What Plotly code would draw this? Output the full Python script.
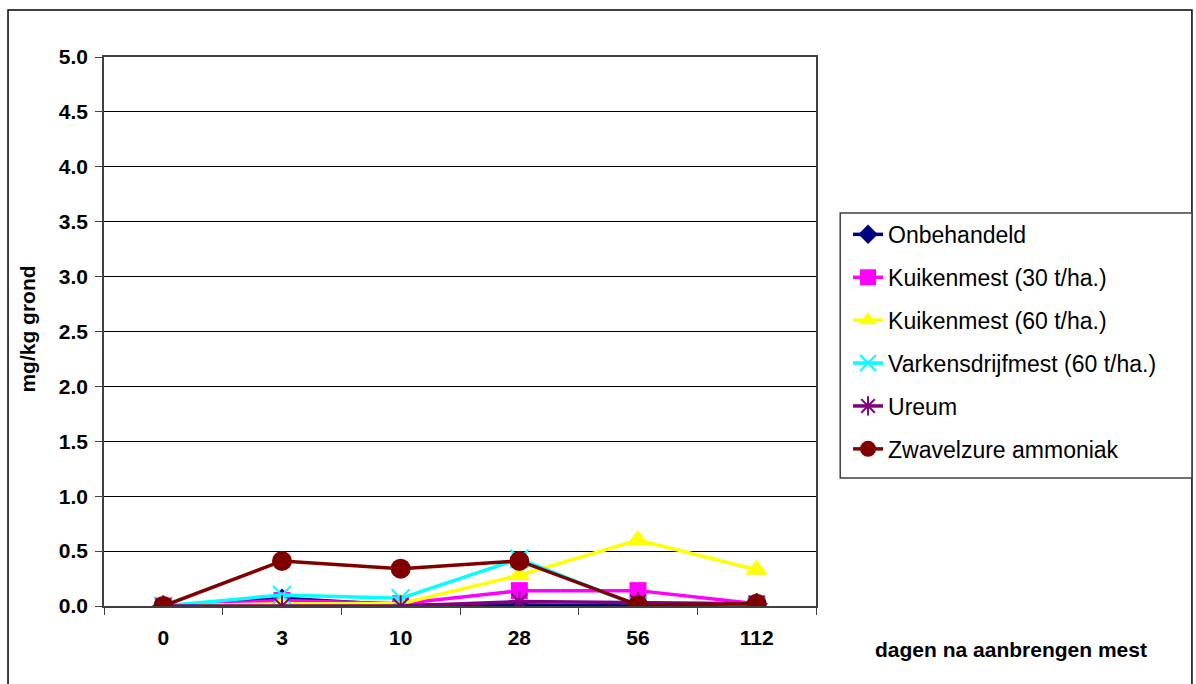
import plotly.graph_objects as go

# Days after manure application (categorical x axis)
dagen = ["0", "3", "10", "28", "56", "112"]

onbehandeld = [0.00, 0.07, 0.01, 0.01, 0.00, 0.00]
kuiken_30 = [0.00, 0.05, 0.02, 0.14, 0.14, 0.02]
kuiken_60 = [0.00, 0.02, 0.02, 0.28, 0.60, 0.33]
varkens_60 = [0.00, 0.10, 0.07, 0.43, 0.00, 0.00]
ureum = [0.00, 0.00, 0.00, 0.04, 0.03, 0.02]
zwavelzure = [0.00, 0.41, 0.34, 0.41, 0.01, 0.02]

y_ticks = [0.0, 0.5, 1.0, 1.5, 2.0, 2.5, 3.0, 3.5, 4.0, 4.5, 5.0]

series = [
    ("Onbehandeld", onbehandeld, "#000080", "diamond", 15),
    ("Kuikenmest (30 t/ha.)", kuiken_30, "#FF00FF", "square", 17),
    ("Kuikenmest (60 t/ha.)", kuiken_60, "#FFFF00", "triangle-up", 20),
    ("Varkensdrijfmest (60 t/ha.)", varkens_60, "#00FFFF", "x-thin-open", 18),
    ("Ureum", ureum, "#800080", "asterisk-open", 18),
    ("Zwavelzure ammoniak", zwavelzure, "#800000", "circle", 20),
]

FONT = "Liberation Sans, Arial, sans-serif"

fig = go.Figure()
for i, (name, vals, color, symbol, size) in enumerate(series):
    marker = dict(symbol=symbol, size=size, color=color)
    if symbol.endswith("-open"):
        marker["line"] = dict(color=color, width=2)
    fig.add_trace(go.Scatter(
        x=dagen, y=vals, name=name, mode="lines+markers",
        line=dict(color=color, width=3.5),
        marker=marker, legendgroup=f"g{i}",
    ))

fig.update_layout(
    width=1196, height=684,
    margin=dict(l=104, r=380, t=57, b=78),
    paper_bgcolor="white", plot_bgcolor="white",
    font=dict(family=FONT, color="black"),
    showlegend=True,
    legend=dict(
        x=1.045, y=0.716, xanchor="left", yanchor="top",
        borderwidth=0, bgcolor="rgba(0,0,0,0)",
        font=dict(size=23, family=FONT, color="black"),
        tracegroupgap=10,
    ),
    xaxis=dict(
        type="category", range=[-0.5, 5.5],
        showgrid=False, showline=True, linecolor="#404040", linewidth=1.5,
        ticks="outside", tickson="boundaries", ticklen=7, tickcolor="#404040",
        tickfont=dict(size=21, family=FONT), ticklabelstandoff=12,
        mirror=True, zeroline=False,
        tickvals=dagen, ticktext=[f"<b>{d}</b>" for d in dagen],
    ),
    yaxis=dict(
        range=[0, 5.0], tickvals=y_ticks,
        ticktext=[f"<b>{v:.1f}</b>" for v in y_ticks],
        showgrid=True, gridcolor="black", gridwidth=1,
        showline=True, linecolor="#404040", linewidth=1.5, mirror=True,
        ticks="outside", ticklen=7, tickcolor="#404040",
        tickfont=dict(size=21, family=FONT), ticklabelstandoff=3,
        zeroline=False,
    ),
)

fig.add_annotation(
    text="<b>mg/kg grond</b>", xref="paper", yref="paper",
    x=-0.107, y=0.505, textangle=-90, showarrow=False,
    font=dict(size=21, family=FONT), xanchor="center", yanchor="middle",
)
fig.add_annotation(
    text="<b>dagen na aanbrengen mest</b>", xref="paper", yref="paper",
    x=1.274, y=-0.08, showarrow=False,
    font=dict(size=21, family=FONT), xanchor="center", yanchor="middle",
)

# Outer chart frame
fig.add_shape(
    type="rect", xref="paper", yref="paper",
    x0=-0.1348, x1=1.528, y0=-0.2, y1=1.0856,
    line=dict(color="black", width=1.5), layer="below",
)
# Legend frame
fig.add_shape(
    type="rect", xref="paper", yref="paper",
    x0=1.034, x1=1.528, y0=0.233, y1=0.716,
    line=dict(color="#404040", width=1.5), fillcolor="white", layer="below",
)

fig.write_html("out.html")
